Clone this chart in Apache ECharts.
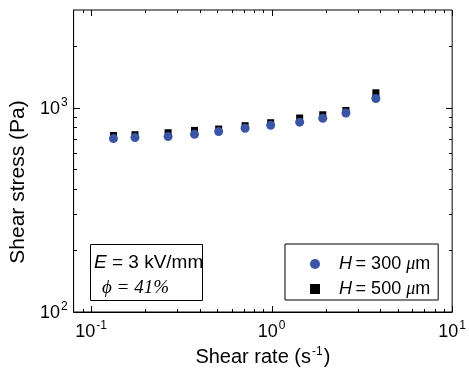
<!DOCTYPE html>
<html>
<head>
<meta charset="utf-8">
<script src="https://cdn.jsdelivr.net/npm/echarts@6/dist/echarts.min.js"></script>
<style>html,body{margin:0;padding:0;background:#fff;}#chart{width:469px;height:381px;}</style>
</head>
<body>
<div id="chart"></div>
<script>
// ---- data ----
const shearRate = [0.133, 0.175, 0.267, 0.374, 0.509, 0.713, 0.988, 1.43, 1.92, 2.58, 3.78];
const stressH300 = [705, 713, 721, 740, 763, 792, 819, 848, 887, 941, 1107];
const stressH500 = [730, 736, 753, 773, 785, 815, 843, 889, 922, 968, 1181];
const seriesNames = ['H = 300 \u03bcm', 'H = 500 \u03bcm'];
const legendLabels = ['{g|}{i|H}{n|\u2009= 300 }{m|\u03bc}{n|m}', '{g|}{i|H}{n|\u2009= 500 }{m|\u03bc}{n|m}'];
const xMajorTicks = [0.1, 1, 10];
const xTickExponents = ['-1', '0', '1'];
const xMinorTicks = [0.09, 0.2, 0.3, 0.4, 0.5, 0.6, 0.7, 0.8, 0.9, 2, 3, 4, 5, 6, 7, 8, 9];
const yMajorTicks = [100, 1000];
const yTickExponents = ['2', '3'];
const yMinorTicks = [200, 300, 400, 500, 600, 700, 800, 900, 2000];
const xTitle = 'Shear rate (s{s|-1})';
const yTitle = 'Shear stress (Pa)';
const annot1 = '{i|E}{n| = 3 kV/mm}';
const annot2 = '\u03d5 = 41%';

const X_MIN = 0.08, X_MAX = 10, Y_MIN = 100, Y_MAX = 3000;
const FONT = 'Liberation Sans, Arial, Helvetica, sans-serif';
const SERIF = 'Liberation Serif, Times New Roman, serif';
const supRich = {
  b: {fontSize: 18, fontFamily: FONT, color: '#000', verticalAlign: 'bottom', lineHeight: 20},
  s: {fontSize: 12, fontFamily: FONT, color: '#000', verticalAlign: 'bottom', lineHeight: 12, padding: [0, 0, 9, 1]}
};
function findIdx(arr, v) { return arr.findIndex(t => Math.abs(t - v) / t < 1e-6); }
const px = v => Math.round(v) + 0.5;
const tickStyle = {stroke: '#000', lineWidth: 1};

const xTickData = xMajorTicks.map(v => [v, 6]).concat(xMinorTicks.map(v => [v, 3]));
const yTickData = yMajorTicks.map(v => [6, v]).concat(yMinorTicks.map(v => [3, v]));

const chart = echarts.init(document.getElementById('chart'), null, {renderer: 'canvas'});
chart.setOption({
  animation: false,
  backgroundColor: '#fff',
  grid: {left: 72, right: 13, top: 10, bottom: 69, containLabel: false,
         show: true, borderColor: '#000', borderWidth: 1, backgroundColor: 'transparent'},
  xAxis: {
    type: 'log', logBase: 10, min: X_MIN, max: X_MAX,
    axisLine: {show: true, lineStyle: {color: '#000', width: 1}},
    axisTick: {show: false},
    axisLabel: {
      show: true, customValues: xMajorTicks, margin: 9,
      formatter: v => '{b|10}{s|' + xTickExponents[findIdx(xMajorTicks, v)] + '}',
      rich: supRich
    },
    splitLine: {show: false}, minorTick: {show: false},
    name: xTitle, nameLocation: 'middle', nameGap: 34,
    nameTextStyle: {fontSize: 20, fontFamily: FONT, color: '#000',
      rich: {s: {fontSize: 12, fontFamily: FONT, color: '#000', verticalAlign: 'bottom', padding: [0, 1, 10, 1]}}}
  },
  yAxis: {
    type: 'log', logBase: 10, min: Y_MIN, max: Y_MAX,
    axisLine: {show: true, lineStyle: {color: '#000', width: 1}},
    axisTick: {show: false},
    axisLabel: {
      show: true, customValues: yMajorTicks, margin: 6,
      formatter: v => '{b|10}{s|' + yTickExponents[findIdx(yMajorTicks, v)] + '}',
      rich: supRich
    },
    splitLine: {show: false}, minorTick: {show: false},
    name: yTitle, nameLocation: 'middle', nameGap: 41, nameRotate: 90,
    nameTextStyle: {fontSize: 21, fontFamily: FONT, color: '#000', padding: [0, 42, 0, 0]}
  },
  legend: {
    orient: 'vertical', left: 285, top: 244,
    padding: [11, 8, 2, 25], itemGap: 7, itemWidth: 10, itemHeight: 10,
    borderColor: '#000', borderWidth: 1, backgroundColor: '#fff',
    data: [{name: seriesNames[0], icon: 'circle'}, {name: seriesNames[1], icon: 'rect'}],
    formatter: name => legendLabels[seriesNames.indexOf(name)],
    textStyle: {
      fontSize: 18, fontFamily: FONT, color: '#000', lineHeight: 18,
      rich: {
        g: {width: 14},
        i: {fontSize: 18, fontFamily: FONT, fontStyle: 'italic', color: '#000'},
        n: {fontSize: 18, fontFamily: FONT, color: '#000'},
        m: {fontSize: 18, fontFamily: SERIF, fontStyle: 'italic', color: '#000'}
      }
    }
  },
  graphic: [
    {type: 'rect', left: 90, top: 244, shape: {width: 112, height: 56},
     style: {fill: '#fff', stroke: '#000', lineWidth: 1}, z: 10},
    {type: 'text', left: 94, top: 253, z: 11,
     style: {text: annot1, fill: '#000',
       rich: {i: {fontSize: 19, fontFamily: FONT, fontStyle: 'italic', fill: '#000'},
              n: {fontSize: 19, fontFamily: FONT, fill: '#000'}}}},
    {type: 'text', left: 102, top: 278, z: 11,
     style: {text: annot2, fill: '#000', font: 'italic 19px ' + SERIF}}
  ],
  series: [
    {type: 'custom', name: 'xticks', silent: true, clip: false, z: 5,
     data: xTickData,
     renderItem: (params, api) => {
       const v = api.value(0), len = api.value(1);
       const b = api.coord([v, Y_MIN]), t = api.coord([v, Y_MAX]);
       const x = px(b[0]);
       return {type: 'group', children: [
         {type: 'line', shape: {x1: x, y1: Math.round(b[1]), x2: x, y2: Math.round(b[1]) - len}, style: tickStyle},
         {type: 'line', shape: {x1: x, y1: Math.round(t[1]), x2: x, y2: Math.round(t[1]) + len}, style: tickStyle}
       ]};
     }},
    {type: 'custom', name: 'yticks', silent: true, clip: false, z: 5,
     data: yTickData,
     renderItem: (params, api) => {
       const len = api.value(0), v = api.value(1);
       const l = api.coord([X_MIN, v]), r = api.coord([X_MAX, v]);
       const y = px(l[1]);
       return {type: 'group', children: [
         {type: 'line', shape: {x1: Math.round(l[0]), y1: y, x2: Math.round(l[0]) + len, y2: y}, style: tickStyle},
         {type: 'line', shape: {x1: Math.round(r[0]), y1: y, x2: Math.round(r[0]) - len, y2: y}, style: tickStyle}
       ]};
     }},
    {name: seriesNames[1], type: 'scatter',
     symbol: 'rect', symbolSize: 7, itemStyle: {color: '#000', opacity: 1},
     data: shearRate.map((x, i) => [x, stressH500[i]])},
    {name: seriesNames[0], type: 'scatter',
     symbol: 'circle', symbolSize: 9, itemStyle: {color: '#3b55a6', opacity: 1},
     data: shearRate.map((x, i) => [x, stressH300[i]])}
  ]
});
</script>
</body>
</html>
